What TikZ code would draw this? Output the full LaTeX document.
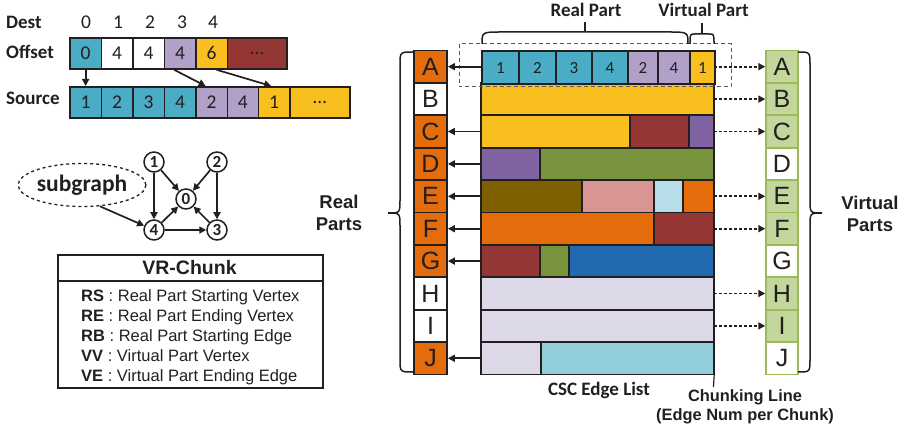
\documentclass[tikz,border=0pt]{standalone}
\usepackage{fontspec}
\setmainfont{Carlito}
\newfontfamily\arialf{Liberation Sans}
\usetikzlibrary{arrows.meta,shapes.geometric,calc}

\definecolor{cteal}{HTML}{4BACC6}
\definecolor{clav}{HTML}{B1A0C7}
\definecolor{cyel}{HTML}{F9BF1E}
\definecolor{cdred}{HTML}{943634}
\definecolor{cpurp}{HTML}{8064A2}
\definecolor{cgreen}{HTML}{77933C}
\definecolor{colive}{HTML}{7F6000}
\definecolor{cpink}{HTML}{D99694}
\definecolor{clblue}{HTML}{B7DEE8}
\definecolor{corange}{HTML}{E46C0A}
\definecolor{cblue}{HTML}{226AB0}
\definecolor{clilac}{HTML}{DDD8E8}
\definecolor{cltea}{HTML}{92CDDC}
\definecolor{clgreen}{HTML}{C3D69B}
\definecolor{cgborder}{HTML}{9BBB59}
\definecolor{ink}{HTML}{231F20}

\begin{document}
\begin{tikzpicture}[x=1pt,y=-1pt,
  tlcell/.style={draw=ink, line width=1.8pt, minimum height=31, inner sep=0pt,
    anchor=north west, text=ink, font=\fontsize{19.5}{20}\selectfont},
  gcell/.style={draw=ink, line width=1.8pt, minimum height=32.4, inner sep=0pt,
    anchor=north west, text=ink, font=\fontsize{17}{18}\selectfont},
  seg/.style={draw=ink, line width=1.8pt},
  lcell/.style={draw=ink, line width=1.8pt, minimum width=33, minimum height=32.4,
    inner sep=0pt, text=ink, font=\arialf\fontsize{25}{25}\selectfont},
  vcell/.style={draw=cgborder, line width=1.5pt, minimum width=32, minimum height=32,
    inner sep=0pt, text=ink, font=\arialf\fontsize{25}{25}\selectfont},
  rowbox/.style={minimum width=233, minimum height=32.4, inner sep=0pt},
  gnode/.style={circle, draw=ink, line width=1.5pt, minimum size=20, inner sep=0pt,
    text=ink, font=\bfseries\fontsize{17}{17}\selectfont},
  arr/.style={-{Triangle[length=7pt,width=7pt]}, line width=1.7pt, draw=ink},
  darr/.style={-{Triangle[length=7pt,width=7pt]}, line width=1.9pt, draw=ink,
    dash pattern=on 3pt off 2pt},
  lbl/.style={text=ink, inner sep=0pt, font=\bfseries\fontsize{19}{22}\selectfont},
  albl/.style={text=ink, inner sep=0pt, align=center, font=\arialf\bfseries\fontsize{18.5}{22}\selectfont},
  brc/.style={draw=ink, line width=1.5pt},
]
\useasboundingbox (0,0) rectangle (905,430);

% ---------- top-left arrays ----------
\node[lbl, anchor=base west] (dest) at (6,28.5) {Dest};
\node[lbl, anchor=base west] (offs) at (6,59) {Offset};
\node[lbl, anchor=base west] (srcl) at (6,105) {Source};
\foreach \n/\x/\t in {d0/86/0, d1/118/1, d2/150/2, d3/182/3, d4/213/4}
  \node[text=ink, inner sep=0pt, anchor=base, font=\fontsize{19.5}{20}\selectfont] (\n) at (\x,28.5) {\t};

\foreach \n/\x/\w/\c/\t in {o0/69/31.5/cteal/0, o1/100.5/31.5/white/4, o2/132/31.5/white/4,
  o3/163.5/31.5/clav/4, o4/195/31.5/cyel/6, o5/226.5/59.5/cdred/\dots}
  \node[tlcell, fill=\c, minimum width=\w] (\n) at (\x,37) {\t};

\foreach \n/\x/\w/\c/\t in {s0/69/31.5/cteal/1, s1/100.5/31.5/cteal/2, s2/132/31.5/cteal/3,
  s3/163.5/31.5/cteal/4, s4/195/31.5/clav/2, s5/226.5/31/clav/4, s6/257.5/31.5/cyel/1,
  s7/289/60/cyel/\dots}
  \node[tlcell, fill=\c, minimum width=\w] (\n) at (\x,86) {\t};

\draw[arr] (o0.south) -- (s0.north);
\draw[arr] ([xshift=-6pt]o3.south) -- ([xshift=-6pt]s4.north);
\draw[arr] ([xshift=5pt]o4.south) -- ([xshift=-3pt]s6.north);

% ---------- graph ----------
\node[gnode] (g1) at (154,162) {1};
\node[gnode] (g2) at (217,162) {2};
\node[gnode] (g0) at (186,199) {0};
\node[gnode] (g4) at (154,230) {4};
\node[gnode] (g3) at (217,230) {3};
\node[ellipse, draw=ink, dashed, line width=1.3pt, minimum width=114, minimum height=43,
  inner sep=0pt, text=ink, font=\bfseries\fontsize{23.5}{24}\selectfont] (sg) at (82,185) {subgraph};
\draw[arr] (g1) -- (g0);
\draw[arr] (g1) -- (g4);
\draw[arr] (g2) -- (g0);
\draw[arr] (g2) -- (g3);
\draw[arr] (g4) -- (g0);
\draw[arr] (g3) -- (g0);
\draw[arr] (g4) -- (g3);
\draw[arr] (sg.-50) -- (g4);

% ---------- VR-Chunk box ----------
\node[draw=ink, line width=1.8pt, minimum width=265, minimum height=133, anchor=north west,
  inner sep=0pt] (vrbox) at (57,254) {};
\draw[draw=ink, line width=1.8pt] (vrbox.north west |- 0,281) coordinate (hl) -- (vrbox.east |- hl);
\node[text=ink, inner sep=0pt, anchor=base, font=\arialf\bfseries\fontsize{19.5}{20}\selectfont]
  (vrh) at (189.5,275) {VR-Chunk};
\foreach \k/\y/\a/\b in {rs/302/RS/Real Part Starting Vertex, re/321.8/RE/Real Part Ending Vertex,
  rb/341.6/RB/Real Part Starting Edge, vv/361.4/VV/Virtual Part Vertex, ve/381.2/VE/Virtual Part Ending Edge}
  \node[text=ink, inner sep=0pt, anchor=base west, font=\arialf\fontsize{16.5}{17}\selectfont]
    (\k) at (81,\y) {\textbf{\a} : \b};

% ---------- main grid ----------
\foreach \i/\l/\c in {0/A/corange, 1/B/white, 2/C/corange, 3/D/corange, 4/E/corange,
  5/F/corange, 6/G/corange, 7/H/white, 8/I/white, 9/J/corange}
  \node[lcell, fill=\c] (L\l) at (430.5, {66.7+32.4*\i}) {\l};

\foreach \i/\l/\c in {0/A/clgreen, 1/B/clgreen, 2/C/clgreen, 3/D/white, 4/E/clgreen,
  5/F/clgreen, 6/G/white, 7/H/clgreen, 8/I/clgreen, 9/J/white}
  \node[vcell, fill=\c] (V\l) at (782, {66.7+32.4*\i}) {\l};

\foreach \i/\a/\b/\c in {1/481/714/cyel, 2/481/630/cyel, 2/630/689/cdred, 2/689/714/cpurp,
  3/481/540/cpurp, 3/540/714/cgreen, 4/481/582/colive, 4/582/654/cpink, 4/654/683/clblue,
  4/683/714/corange, 5/481/654/corange, 5/654/714/cdred, 6/481/540/cdred, 6/540/569/cgreen,
  6/569/714/cblue, 7/481/714/clilac, 8/481/714/clilac, 9/481/541/clilac, 9/541/714/cltea}
  \draw[seg, fill=\c] (\a, {50.5+32.4*\i}) rectangle (\b, {82.9+32.4*\i});

\foreach \n/\a/\w/\c/\t in {a1/481/37/cteal/1, a2/518/37/cteal/2, a3/555/36/cteal/3,
  a4/591/36/cteal/4, a5/627/30/clav/2, a6/657/32/clav/4, a7/689/25/cyel/1}
  \node[gcell, fill=\c, minimum width=\w] (\n) at (\a,50.5) {\t};

\foreach \i/\l in {0/A,1/B,2/C,3/D,4/E,5/F,6/G,7/H,8/I,9/J}
  \node[rowbox] (R\l) at (597.5, {66.7+32.4*\i}) {};

% dashed selection
\draw[draw=ink!75, line width=1pt, dash pattern=on 4pt off 3pt] (459,44) rectangle (731,87);

% arrows
\foreach \l in {A,C,D,E,F,G,J}
  \draw[arr] (R\l.west) -- (L\l.east);
\foreach \l in {A,B,C,E,F,H,I}
  \draw[darr] (R\l.east) -- (V\l.west);

% chunking line
\coordinate (chk) at (713.5,387);
\draw[draw=ink, line width=1.2pt] (RJ.south east) -- (chk);

% braces
\draw[brc] (413,52) .. controls (400,52) .. (400,65) -- (400,200)
  .. controls (400,213) .. (388,213) .. controls (400,213) .. (400,226)
  -- (400,359) .. controls (400,372) .. (413,372);
\draw[brc] (798,52) .. controls (810,52) .. (810,65) -- (810,200)
  .. controls (810,213) .. (822,213) .. controls (810,213) .. (810,226)
  -- (810,359) .. controls (810,372) .. (798,372);
\draw[brc] (482,44) .. controls (482,32) .. (502,32) -- (668,32)
  .. controls (688,32) .. (688,44);
\draw[brc] (585,32) -- (585,22);
\draw[brc] (690,44) .. controls (690,34) .. (695,34) -- (709,34)
  .. controls (714,34) .. (714,44);
\draw[brc] (702,34) -- (702,23);

% labels
\node[lbl, anchor=base] (rpt) at (586,17) {Real Part};
\node[lbl, anchor=base] (vpt) at (703.5,17) {Virtual Part};
\node[albl] (rps) at (339,213) {Real\\Parts};
\node[albl] (vps) at (870,214) {Virtual\\Parts};
\node[lbl, anchor=base] (csc) at (599,395) {CSC Edge List};
\node[text=ink, inner sep=0pt, anchor=base, font=\arialf\bfseries\fontsize{16.4}{17}\selectfont]
  (chl) at (745,401) {Chunking Line};
\node[text=ink, inner sep=0pt, anchor=base, font=\arialf\bfseries\fontsize{16.4}{17}\selectfont]
  (chn) at (745,420) {(Edge Num per Chunk)};
\end{tikzpicture}
\end{document}
